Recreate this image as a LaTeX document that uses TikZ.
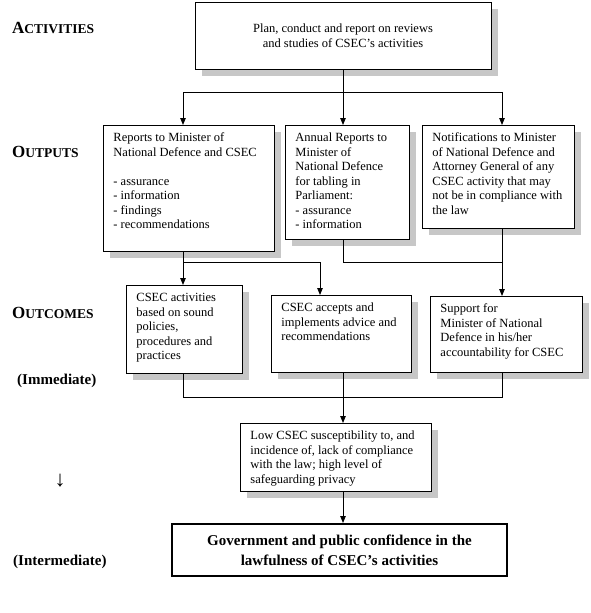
\documentclass[tikz,border=0pt]{standalone}
\usepackage{fontspec}
\setmainfont{Liberation Serif}
\usetikzlibrary{arrows.meta,shadows}
\definecolor{shadowgray}{gray}{0.78}
\newcommand{\tbx}[3]{\parbox[c][#2][t]{#1}{\begin{tabular}[t]{@{}l@{}}#3\end{tabular}}}
\newcommand{\capslabel}[2]{{\fontsize{17}{17}\selectfont #1}{\fontsize{13.5}{13.5}\selectfont #2}}
\begin{document}
\begin{tikzpicture}[x=1pt,y=-1pt,
  bodyfont/.style={font=\fontsize{12.5}{14.5}\selectfont},
  shadowed/.style={general shadow={fill=shadowgray, shadow xshift=7pt, shadow yshift=-7pt}},
  box/.style={draw, line width=0.9pt, fill=white, anchor=north west, inner xsep=10pt, inner ysep=6pt, shadowed, bodyfont},
  lbl/.style={anchor=west, inner sep=0pt, font=\bfseries},
  conn/.style={line width=0.9pt},
  arr/.style={conn, -{Triangle[length=7pt,width=5.5pt]}}]
\useasboundingbox (0,0) rectangle (590,613);

% column coordinates
\coordinate (cA) at (183,0);
\coordinate (cB) at (343,0);
\coordinate (cC) at (502,0);
\coordinate (cD) at (320,0);
\coordinate (j1) at (343,92);
\coordinate (j2) at (183,262);
\coordinate (j3) at (343,262);
\coordinate (j4) at (183,397);

% left labels
\node[lbl] (lact) at (12,28) {\capslabel{A}{CTIVITIES}};
\node[lbl] (lout) at (12,152) {\capslabel{O}{UTPUTS}};
\node[lbl] (lcom) at (12,313) {\capslabel{O}{UTCOMES}};
\node[lbl, font=\bfseries\fontsize{15}{15}\selectfont] (limm) at (17,381) {(Immediate)};
\node[inner sep=0pt, font=\fontsize{22}{22}\selectfont] (ldown) at (60,481) {↓};
\node[lbl, font=\bfseries\fontsize{15}{15}\selectfont] (lint) at (13,562) {(Intermediate)};

% top box
\node[draw, line width=0.9pt, fill=white, shadowed, bodyfont, align=center,
      minimum width=296pt, minimum height=67pt, inner sep=0pt] (top) at (343,35.5)
  {Plan, conduct and report on reviews\\and studies of CSEC’s activities};

% outputs
\node[box] (o1) at (103,125) {\tbx{151pt}{114pt}{Reports to Minister of\\National Defence and CSEC\\ \\- assurance\\- information\\- findings\\- recommendations}};
\node[box] (o2) at (285,125) {\tbx{104pt}{102pt}{Annual Reports to\\Minister of\\National Defence\\for tabling in\\Parliament:\\- assurance\\- information}};
\node[box] (o3) at (422,125) {\tbx{132pt}{91pt}{Notifications to Minister\\of National Defence and\\Attorney General of any\\CSEC activity that may\\not be in compliance with\\the law}};

% outcomes
\node[box] (c1) at (126,285) {\tbx{96pt}{76pt}{CSEC activities\\based on sound\\policies,\\procedures and\\practices}};
\node[box] (c2) at (271,295) {\tbx{120pt}{65pt}{CSEC accepts and\\implements advice and\\recommendations}};
\node[box] (c3) at (430,296) {\tbx{132pt}{64pt}{Support for\\Minister of National\\Defence in his/her\\accountability for CSEC}};

% low box
\node[box] (low) at (240,423) {\tbx{171pt}{56pt}{Low CSEC susceptibility to, and\\incidence of, lack of compliance\\with the law; high level of\\safeguarding privacy}};

% final box
\node[draw, line width=2pt, fill=white, align=center, minimum width=335pt, minimum height=52pt,
      inner sep=0pt, font=\bfseries\fontsize{15}{20}\selectfont] (fin) at (339.5,550)
  {Government and public confidence in the\\lawfulness of CSEC’s activities};

% connectors
\draw[conn] (top.south -| cB) -- (j1);
\draw[arr] (j1) -| (cA |- o1.north);
\draw[arr] (j1) -- (cB |- o2.north);
\draw[arr] (j1) -| (cC |- o3.north);

\draw[arr] (cA |- o1.south) -- (cA |- c1.north);
\draw[arr] (j2) -| (cD |- c2.north);
\draw[conn] (cB |- o2.south) -- (j3) -- (cC |- j3);
\draw[arr] (cC |- o3.south) -- (cC |- c3.north);

\draw[conn] (cA |- c1.south) -- (j4) -| (cC |- c3.south);
\draw[arr] (cB |- c2.south) -- (cB |- low.north);
\draw[arr] (cB |- low.south) -- (cB |- fin.north);
\end{tikzpicture}
\end{document}
